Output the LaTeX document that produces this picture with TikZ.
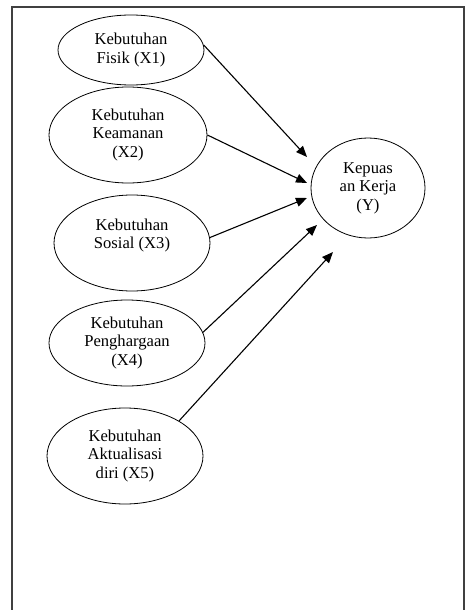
\documentclass[tikz,border=0pt]{standalone}
\usepackage{fontspec}
\setmainfont{Liberation Serif}
\usetikzlibrary{shapes.geometric,arrows.meta}
\begin{document}
\begin{tikzpicture}[%
          x=1pt, y=-1pt,
          var/.style={ellipse, draw, line width=0.8pt, inner sep=0pt, align=center,
            font=\fontsize{16.6}{18.4}\selectfont},
          link/.style={line width=1.1pt, -{Triangle[length=11pt,width=9pt]}}]
          \useasboundingbox (0,0) rectangle (470,610);
          % frame, open at the bottom
          \draw[line width=1.3pt, black!75] (12,610) -- (12,7) -- (464,7) -- (464,610);
          \node[var, minimum width=146pt, minimum height=70pt] (x1) at (131,50) {Kebutuhan\\Fisik (X1)};
          \node[var, minimum width=158pt, minimum height=96pt] (x2) at (128,135) {Kebutuhan\\Keamanan\\(X2)};
          \node[var, minimum width=156pt, minimum height=96pt] (x3) at (132,243) {Kebutuhan\\Sosial (X3)\\~};
          \node[var, minimum width=156pt, minimum height=86pt] (x4) at (127,343) {Kebutuhan\\Penghargaan\\(X4)};
          \node[var, minimum width=156pt, minimum height=96pt] (x5) at (125,456) {Kebutuhan\\Aktualisasi\\diri (X5)};
          \node[var, minimum width=114pt, minimum height=100pt] (y) at (368,188) {Kepuas\\an Kerja\\(Y)};
          % arrow tips stop short of (y)
          \coordinate (t1) at (307,157);
          \coordinate (t2) at (307,183);
          \coordinate (t3) at (307,198);
          \coordinate (t4) at (317,225);
          \coordinate (t5) at (333,252);
          \draw[link] (x1.4) -- (t1);
          \draw[link] (x2.east) -- (t2);
          \draw[link] (x3.4) -- (t3);
          \draw[link] (x4.8) -- (t4);
          \draw[link] (x5.33) -- (t5);
        \end{tikzpicture}
\end{document}
